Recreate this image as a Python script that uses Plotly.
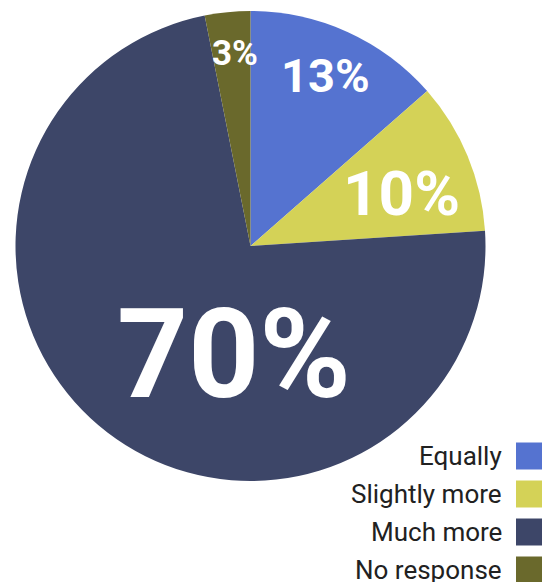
import math
import plotly.graph_objects as go

labels = ["Equally", "Slightly more", "Much more", "No response"]
values = [13, 10, 70, 3]
colors = ["#5573d0", "#d4d257", "#3d4668", "#6a692c"]

W, H = 542, 582

# styling of the in-slice labels (position within slice, radial fraction, font size)
label_sizes = [47, 62, 124, 35]
label_angle_frac = [0.49, 0.59, 0.391, 0.58]
label_radius_frac = [0.79, 0.68, 0.465, 0.82]

# pie geometry in pixels
px0, px1, py0, py1 = 15, 486, 11, 481
cx, cy = (px0 + px1) / 2, (py0 + py1) / 2
R = (px1 - px0) / 2

fig = go.Figure(go.Pie(
    labels=labels,
    values=values,
    sort=False,
    direction="clockwise",
    rotation=0,
    marker=dict(colors=colors, line=dict(width=0)),
    textinfo="none",
    showlegend=False,
    hoverinfo="label+value",
    domain=dict(x=[px0 / W, px1 / W], y=[1 - py1 / H, 1 - py0 / H]),
))

total = sum(values)
start = 0.0
for v, size, af, rf in zip(values, label_sizes, label_angle_frac, label_radius_frac):
    span = 360.0 * v / total
    theta = math.radians(start + af * span)
    x = cx + rf * R * math.sin(theta)
    y = cy - rf * R * math.cos(theta)
    fig.add_annotation(xref="paper", yref="paper", x=x / W, y=1 - y / H,
                       xanchor="center", yanchor="middle", showarrow=False,
                       text=f"{v}%",
                       font=dict(family="Roboto", size=size, color="white", weight="bold"))
    start += span

# custom legend: text left of the colour square
row0, step, box = 456, 38, 27
for i, (lab, col) in enumerate(zip(labels, colors)):
    yc = row0 + step * i
    fig.add_shape(type="rect", xref="paper", yref="paper",
                  x0=516 / W, x1=545 / W,
                  y0=1 - (yc + box / 2) / H, y1=1 - (yc - box / 2) / H,
                  fillcolor=col, line=dict(width=0))
    fig.add_annotation(xref="paper", yref="paper", x=504 / W, y=1 - yc / H,
                       xanchor="right", yanchor="middle", showarrow=False,
                       text=lab, font=dict(family="Roboto", size=26, color="#212121"))

fig.update_layout(
    width=W, height=H,
    margin=dict(l=0, r=0, t=0, b=0),
    paper_bgcolor="white", plot_bgcolor="white",
)
fig.write_html("out.html", config={"displayModeBar": False},
               post_script="document.body.style.margin='0';")
